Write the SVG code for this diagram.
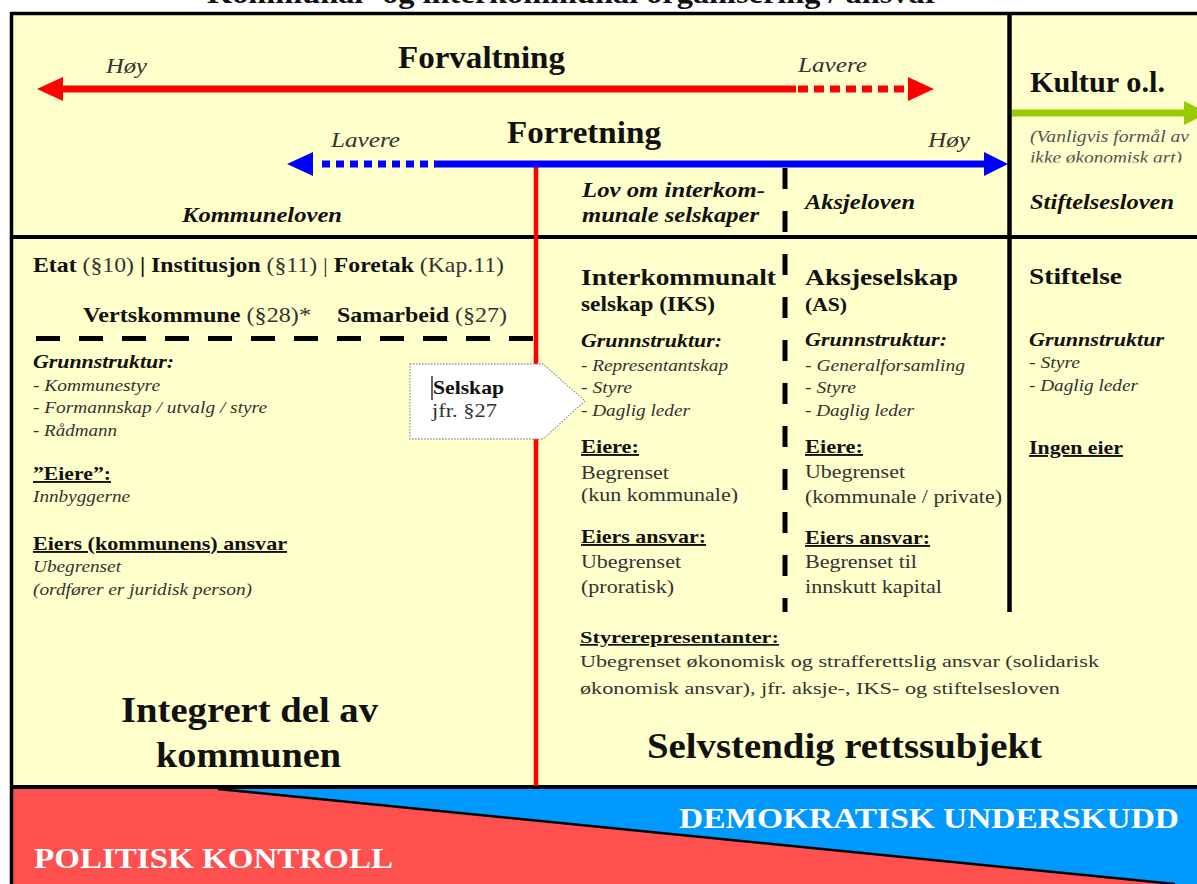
<svg xmlns="http://www.w3.org/2000/svg" width="1197" height="884" viewBox="0 0 1197 884">
<style>
text{font-family:"Liberation Serif","Times New Roman",serif;fill:#111}
.b{font-weight:bold}
.i{font-style:italic}
.g{fill:#333}
.u{text-decoration:underline}
.w{fill:#fff}
.frame{stroke:#000;fill:none}
</style>
<defs>
<clipPath id="clipKultur"><rect x="1012" y="120" width="185" height="42.5"/></clipPath>
<clipPath id="clipKun"><rect x="570" y="460" width="210" height="43.5"/></clipPath>
</defs>

<!-- title (cut off at top) -->
<text class="b" x="207" y="3" font-size="30" textLength="732" lengthAdjust="spacingAndGlyphs">Kommunal- og interkommunal organisering / ansvar</text>

<!-- background -->
<rect x="12" y="13" width="1185" height="775" fill="#FFFFCC"/>
<rect x="12" y="789" width="1185" height="95" fill="#FF5050"/>
<polygon points="218,789 1197,789 1197,884 1175,884" fill="#0099FF"/>
<line x1="218" y1="789" x2="1175" y2="884" stroke="#000" stroke-width="2.5"/>

<!-- frame lines -->
<g id="frame">
<line class="frame" x1="11" y1="13.5" x2="1197" y2="13.5" stroke-width="3.5"/>
<line class="frame" x1="11.5" y1="12" x2="11.5" y2="884" stroke-width="3.5"/>
<line class="frame" x1="11" y1="237" x2="1197" y2="237" stroke-width="4"/>
<line class="frame" x1="11" y1="787" x2="1197" y2="787" stroke-width="4"/>
<line class="frame" x1="1009.5" y1="12" x2="1009.5" y2="612" stroke-width="4.5"/>
<line class="frame" x1="785" y1="168" x2="785" y2="612" stroke-width="5" stroke-dasharray="21 22"/>
<line class="frame" x1="36" y1="338.5" x2="536" y2="338.5" stroke-width="5" stroke-dasharray="24 19"/>
<line x1="536" y1="167" x2="536" y2="786" stroke="#FF0000" stroke-width="4.5"/>
</g>

<!-- connectors (arrows) -->
<g id="connectors">
<line x1="60" y1="89" x2="796" y2="89" stroke="#FF0000" stroke-width="7"/>
<line x1="798" y1="89" x2="906" y2="89" stroke="#FF0000" stroke-width="7" stroke-dasharray="10 6"/>
<polygon points="37,89 63,77 63,101" fill="#FF0000"/>
<polygon points="934,89 908,77 908,101" fill="#FF0000"/>
<line x1="322" y1="164" x2="435" y2="164" stroke="#0000FF" stroke-width="7" stroke-dasharray="8 6"/>
<line x1="434" y1="164" x2="987" y2="164" stroke="#0000FF" stroke-width="7"/>
<polygon points="287,164 313,152 313,176" fill="#0000FF"/>
<polygon points="1008,164 984,152 984,176" fill="#0000FF"/>
<line x1="1012" y1="113" x2="1186" y2="113" stroke="#99CC00" stroke-width="7"/>
<polygon points="1184,101 1184,125 1208,113" fill="#99CC00"/>
</g>

<!-- top labels -->
<g id="forvaltning">
<text class="i g" x="106" y="73" font-size="21" textLength="41" lengthAdjust="spacingAndGlyphs">Høy</text>
<text class="b" x="398" y="68" font-size="32" textLength="167" lengthAdjust="spacingAndGlyphs">Forvaltning</text>
<text class="i g" x="798" y="72" font-size="21" textLength="69" lengthAdjust="spacingAndGlyphs">Lavere</text>
</g>
<g id="forretning">
<text class="i g" x="331" y="147" font-size="21" textLength="69" lengthAdjust="spacingAndGlyphs">Lavere</text>
<text class="b" x="507" y="143" font-size="32" textLength="154" lengthAdjust="spacingAndGlyphs">Forretning</text>
<text class="i g" x="928" y="147" font-size="21" textLength="42" lengthAdjust="spacingAndGlyphs">Høy</text>
</g>
<g id="kultur">
<text class="b" x="1030" y="92" font-size="29" textLength="135" lengthAdjust="spacingAndGlyphs">Kultur o.l.</text>
<g clip-path="url(#clipKultur)">
<text class="i" x="1030" y="142" font-size="16" style="fill:#555" textLength="159" lengthAdjust="spacingAndGlyphs">(Vanligvis formål av</text>
<text class="i" x="1030" y="163" font-size="16" style="fill:#555" textLength="152" lengthAdjust="spacingAndGlyphs">ikke økonomisk art)</text>
</g>
</g>

<!-- law labels -->
<g id="lover">
<text class="b i" x="182" y="222" font-size="20" textLength="160" lengthAdjust="spacingAndGlyphs">Kommuneloven</text>
<text class="b i" x="582" y="197" font-size="20" textLength="183" lengthAdjust="spacingAndGlyphs">Lov om interkom-</text>
<text class="b i" x="582" y="222" font-size="20" textLength="177" lengthAdjust="spacingAndGlyphs">munale selskaper</text>
<text class="b i" x="805" y="209" font-size="20" textLength="110" lengthAdjust="spacingAndGlyphs">Aksjeloven</text>
<text class="b i" x="1030" y="209" font-size="20" textLength="144" lengthAdjust="spacingAndGlyphs">Stiftelsesloven</text>
</g>

<!-- left column: integrated in municipality -->
<g id="kommune">
<text x="33" y="272" font-size="21" textLength="471" lengthAdjust="spacingAndGlyphs"><tspan class="b">Etat</tspan><tspan class="g"> (§10) </tspan><tspan class="b">| Institusjon</tspan><tspan class="g"> (§11) | </tspan><tspan class="b">Foretak</tspan><tspan class="g"> (Kap.11)</tspan></text>
<text x="83" y="322" font-size="21" textLength="228" lengthAdjust="spacingAndGlyphs"><tspan class="b">Vertskommune</tspan><tspan class="g"> (§28)*</tspan></text>
<text x="337" y="322" font-size="21" textLength="170" lengthAdjust="spacingAndGlyphs"><tspan class="b">Samarbeid</tspan><tspan class="g"> (§27)</tspan></text>
<text class="b i" x="33" y="368" font-size="18" textLength="141" lengthAdjust="spacingAndGlyphs">Grunnstruktur:</text>
<text class="i g" x="33" y="391" font-size="16" textLength="127" lengthAdjust="spacingAndGlyphs">- Kommunestyre</text>
<text class="i g" x="33" y="413" font-size="16" textLength="234" lengthAdjust="spacingAndGlyphs">- Formannskap / utvalg / styre</text>
<text class="i g" x="33" y="436" font-size="16" textLength="84" lengthAdjust="spacingAndGlyphs">- Rådmann</text>
<text class="b u" x="33" y="480" font-size="19" textLength="78" lengthAdjust="spacingAndGlyphs">”Eiere”:</text>
<text class="i g" x="33" y="502" font-size="16" textLength="97" lengthAdjust="spacingAndGlyphs">Innbyggerne</text>
<text class="b u" x="33" y="550" font-size="19" textLength="254" lengthAdjust="spacingAndGlyphs">Eiers (kommunens) ansvar</text>
<text class="i g" x="33" y="572" font-size="16" textLength="88" lengthAdjust="spacingAndGlyphs">Ubegrenset</text>
<text class="i g" x="33" y="595" font-size="16" textLength="219" lengthAdjust="spacingAndGlyphs">(ordfører er juridisk person)</text>
<text class="b" x="121" y="722" font-size="36" textLength="257" lengthAdjust="spacingAndGlyphs">Integrert del av</text>
<text class="b" x="156" y="767" font-size="36" textLength="185" lengthAdjust="spacingAndGlyphs">kommunen</text>
</g>

<!-- callout -->
<g id="selskap">
<polygon points="410,364 543,364 585,401 543,439 410,439" fill="#fff" stroke="#999" stroke-width="1.3" stroke-dasharray="1.5 1.5"/>
<line x1="432" y1="376" x2="432" y2="400" stroke="#333" stroke-width="1.5"/>
<text class="b" x="433" y="394" font-size="19" textLength="71" lengthAdjust="spacingAndGlyphs">Selskap</text>
<text class="g" x="432" y="417" font-size="19" textLength="65" lengthAdjust="spacingAndGlyphs">jfr. §27</text>
</g>

<!-- IKS column -->
<g id="iks">
<text class="b" x="581" y="285" font-size="24" textLength="195" lengthAdjust="spacingAndGlyphs">Interkommunalt</text>
<text class="b" x="581" y="311" font-size="22" textLength="134" lengthAdjust="spacingAndGlyphs">selskap (IKS)</text>
<text class="b i" x="581" y="347" font-size="18" textLength="141" lengthAdjust="spacingAndGlyphs">Grunnstruktur:</text>
<text class="i g" x="581" y="371" font-size="16" textLength="147" lengthAdjust="spacingAndGlyphs">- Representantskap</text>
<text class="i g" x="581" y="393" font-size="16" textLength="51" lengthAdjust="spacingAndGlyphs">- Styre</text>
<text class="i g" x="581" y="416" font-size="16" textLength="109" lengthAdjust="spacingAndGlyphs">- Daglig leder</text>
<text class="b u" x="581" y="453" font-size="19" textLength="58" lengthAdjust="spacingAndGlyphs">Eiere:</text>
<text class="g" x="581" y="479" font-size="19" textLength="88" lengthAdjust="spacingAndGlyphs">Begrenset</text>
<g clip-path="url(#clipKun)">
<text class="g" x="581" y="501" font-size="19" textLength="157" lengthAdjust="spacingAndGlyphs">(kun kommunale)</text>
</g>
<text class="b u" x="581" y="543" font-size="19" textLength="125" lengthAdjust="spacingAndGlyphs">Eiers ansvar:</text>
<text class="g" x="581" y="568" font-size="19" textLength="100" lengthAdjust="spacingAndGlyphs">Ubegrenset</text>
<text class="g" x="581" y="593" font-size="19" textLength="93" lengthAdjust="spacingAndGlyphs">(proratisk)</text>
</g>

<!-- AS column -->
<g id="as">
<text class="b" x="805" y="285" font-size="24" textLength="153" lengthAdjust="spacingAndGlyphs">Aksjeselskap</text>
<text class="b" x="805" y="311" font-size="19" textLength="42" lengthAdjust="spacingAndGlyphs">(AS)</text>
<text class="b i" x="805" y="346" font-size="18" textLength="142" lengthAdjust="spacingAndGlyphs">Grunnstruktur:</text>
<text class="i g" x="805" y="371" font-size="16" textLength="160" lengthAdjust="spacingAndGlyphs">- Generalforsamling</text>
<text class="i g" x="805" y="393" font-size="16" textLength="51" lengthAdjust="spacingAndGlyphs">- Styre</text>
<text class="i g" x="805" y="416" font-size="16" textLength="109" lengthAdjust="spacingAndGlyphs">- Daglig leder</text>
<text class="b u" x="805" y="453" font-size="19" textLength="58" lengthAdjust="spacingAndGlyphs">Eiere:</text>
<text class="g" x="805" y="478" font-size="19" textLength="100" lengthAdjust="spacingAndGlyphs">Ubegrenset</text>
<text class="g" x="805" y="503" font-size="19" textLength="197" lengthAdjust="spacingAndGlyphs">(kommunale / private)</text>
<text class="b u" x="805" y="544" font-size="19" textLength="125" lengthAdjust="spacingAndGlyphs">Eiers ansvar:</text>
<text class="g" x="805" y="568" font-size="19" textLength="112" lengthAdjust="spacingAndGlyphs">Begrenset til</text>
<text class="g" x="805" y="593" font-size="19" textLength="137" lengthAdjust="spacingAndGlyphs">innskutt kapital</text>
</g>

<!-- Stiftelse column -->
<g id="stiftelse">
<text class="b" x="1029" y="284" font-size="24" textLength="93" lengthAdjust="spacingAndGlyphs">Stiftelse</text>
<text class="b i" x="1029" y="346" font-size="18" textLength="135" lengthAdjust="spacingAndGlyphs">Grunnstruktur</text>
<text class="i g" x="1029" y="368" font-size="16" textLength="51" lengthAdjust="spacingAndGlyphs">- Styre</text>
<text class="i g" x="1029" y="391" font-size="16" textLength="109" lengthAdjust="spacingAndGlyphs">- Daglig leder</text>
<text class="b u" x="1029" y="454" font-size="19" textLength="94" lengthAdjust="spacingAndGlyphs">Ingen eier</text>
</g>

<!-- board representatives -->
<g id="styrerepresentanter">
<text class="b u" x="580" y="643" font-size="17" textLength="199" lengthAdjust="spacingAndGlyphs">Styrerepresentanter:</text>
<text class="g" x="580" y="667" font-size="17" textLength="519" lengthAdjust="spacingAndGlyphs">Ubegrenset økonomisk og strafferettslig ansvar (solidarisk</text>
<text class="g" x="580" y="694" font-size="17" textLength="480" lengthAdjust="spacingAndGlyphs">økonomisk ansvar), jfr. aksje-, IKS- og stiftelsesloven</text>
<text class="b" x="647" y="758" font-size="36" textLength="395" lengthAdjust="spacingAndGlyphs">Selvstendig rettssubjekt</text>
</g>

<!-- bottom band -->
<g id="band">
<text class="b w" x="679" y="828" font-size="30" textLength="500" lengthAdjust="spacingAndGlyphs">DEMOKRATISK UNDERSKUDD</text>
<text class="b w" x="34" y="868" font-size="30" textLength="359" lengthAdjust="spacingAndGlyphs">POLITISK KONTROLL</text>
</g>
</svg>
